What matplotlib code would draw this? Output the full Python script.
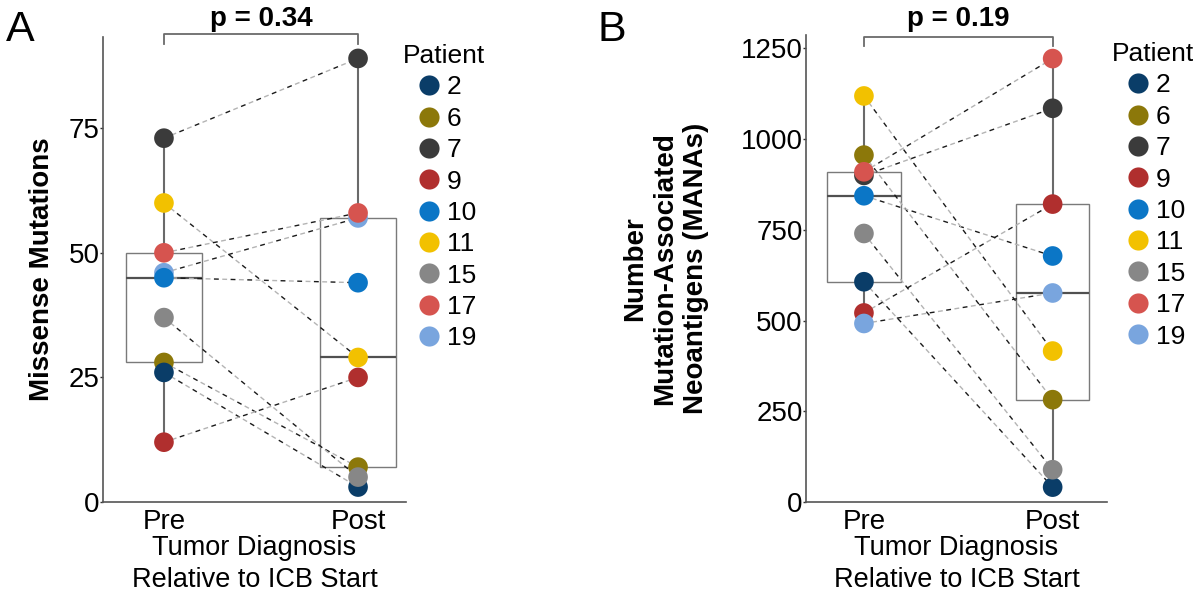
import matplotlib
matplotlib.use("Agg")
import matplotlib.pyplot as plt
from matplotlib.lines import Line2D
import numpy as np

plt.rcParams['font.family'] = ['Liberation Sans', 'DejaVu Sans']

patients = ['2', '6', '7', '9', '10', '11', '15', '17', '19']
colors = ['#0a3d68', '#8c780a', '#3b3b3b', '#b02f2e', '#0b76c6',
          '#f2c100', '#878787', '#d6544f', '#79a5de']

# values, same order as patients
missense_pre = [26, 28, 73, 12, 45, 60, 37, 50, 46]
missense_post = [3, 7, 89, 25, 44, 29, 5, 58, 57]
manas_pre = [607, 956, 900, 521, 844, 1119, 740, 910, 492]
manas_post = [41, 282, 1085, 821, 678, 416, 89, 1222, 576]

groups = ['Pre', 'Post']

# order the points are stacked in (last one on top)
draw_order = [1, 2, 3, 0, 8, 4, 5, 6, 7]


def panel(ax, pre, post, ylim, yticks, ylabel, ylabelpad, ptext,
          bracket_y, tick_drop, text_y, leg_x):
    # boxplot, ggplot style (no caps, no outliers)
    ax.boxplot([pre, post], positions=[1, 2], widths=0.39, whis=1.5,
               showcaps=False, showfliers=False, patch_artist=True,
               boxprops=dict(facecolor='none', edgecolor='#7a7a7a', linewidth=1.0),
               whiskerprops=dict(color='#6a6a6a', linewidth=1.5),
               medianprops=dict(color='#505050', linewidth=1.6), zorder=1)
    # paired lines: dark and light dashes alternating
    for a, b in zip(pre, post):
        ax.plot([1, 2], [a, b], color='#1a1a1a', linestyle=(0, (3.5, 8.5)),
                linewidth=1.0, zorder=2)
        ax.plot([1, 2], [a, b], color='#b4b4b4', linestyle=(6, (3.5, 8.5)),
                linewidth=1.0, zorder=2)
    # points
    for i in draw_order:
        ax.scatter([1, 2], [pre[i], post[i]], s=200, color=colors[i],
                   edgecolors='none', zorder=3)

    ax.set_ylim(*ylim)
    ax.set_yticks(yticks)
    ax.set_xticks([1, 2])
    ax.set_xticklabels(groups)
    ax.tick_params(axis='y', labelsize=20, length=2.5, width=1, color='#333333', pad=0)
    ax.tick_params(axis='x', labelsize=20, length=0, pad=5)
    for s in ['top', 'right']:
        ax.spines[s].set_visible(False)
    for s in ['left', 'bottom']:
        ax.spines[s].set_color('#555555')
        ax.spines[s].set_linewidth(1.2)
    ax.set_ylabel(ylabel, fontsize=20, fontweight='bold', labelpad=ylabelpad)
    ax.set_xlabel('Tumor Diagnosis\nRelative to ICB Start', fontsize=19.5,
                  labelpad=0, linespacing=1.3)

    # significance bracket
    ax.plot([1, 1, 2, 2], [bracket_y - tick_drop, bracket_y, bracket_y, bracket_y - tick_drop],
            color='#6a6a6a', linewidth=1.3, clip_on=False)
    ax.text(1.5, text_y, ptext, fontsize=20, fontweight='bold',
            ha='center', va='center', clip_on=False)

    handles = [Line2D([], [], marker='o', linestyle='none', markersize=14.5,
                      markerfacecolor=c, markeredgecolor='none') for c in colors]
    ax.legend(handles, patients, title='Patient', loc='upper left',
              bbox_to_anchor=(leg_x, 0.985), frameon=False, fontsize=19,
              title_fontsize=19, handlelength=1.95, handletextpad=-0.3,
              labelspacing=0.28, borderpad=0, borderaxespad=0,
              alignment='left')


fig = plt.figure(figsize=(12, 6), dpi=100)

axA = fig.add_axes([103 / 1200, 98 / 600, 303 / 1200, 465 / 600])
axA.set_xlim(0.686, 2.247)
panel(axA, missense_pre, missense_post, (0, 93.3), [0, 25, 50, 75],
      'Missense Mutations', 10, 'p = 0.34', 93.9, 2.0, 97.0, 0.99)

axB = fig.add_axes([806 / 1200, 98 / 600, 301 / 1200, 467 / 600])
axB.set_xlim(0.693, 2.288)
panel(axB, manas_pre, manas_post, (0, 1287), [0, 250, 500, 750, 1000, 1250],
      'Number\nMutation-Associated\nNeoantigens (MANAs)', 23, 'p = 0.19',
      1282, 24, 1330, 1.017)

fig.text(20 / 1200, 1 - 30 / 600, 'A', fontsize=31, ha='center', va='center')
fig.text(612 / 1200, 1 - 30 / 600, 'B', fontsize=31, ha='center', va='center')

fig.savefig('out.png', dpi=100)
